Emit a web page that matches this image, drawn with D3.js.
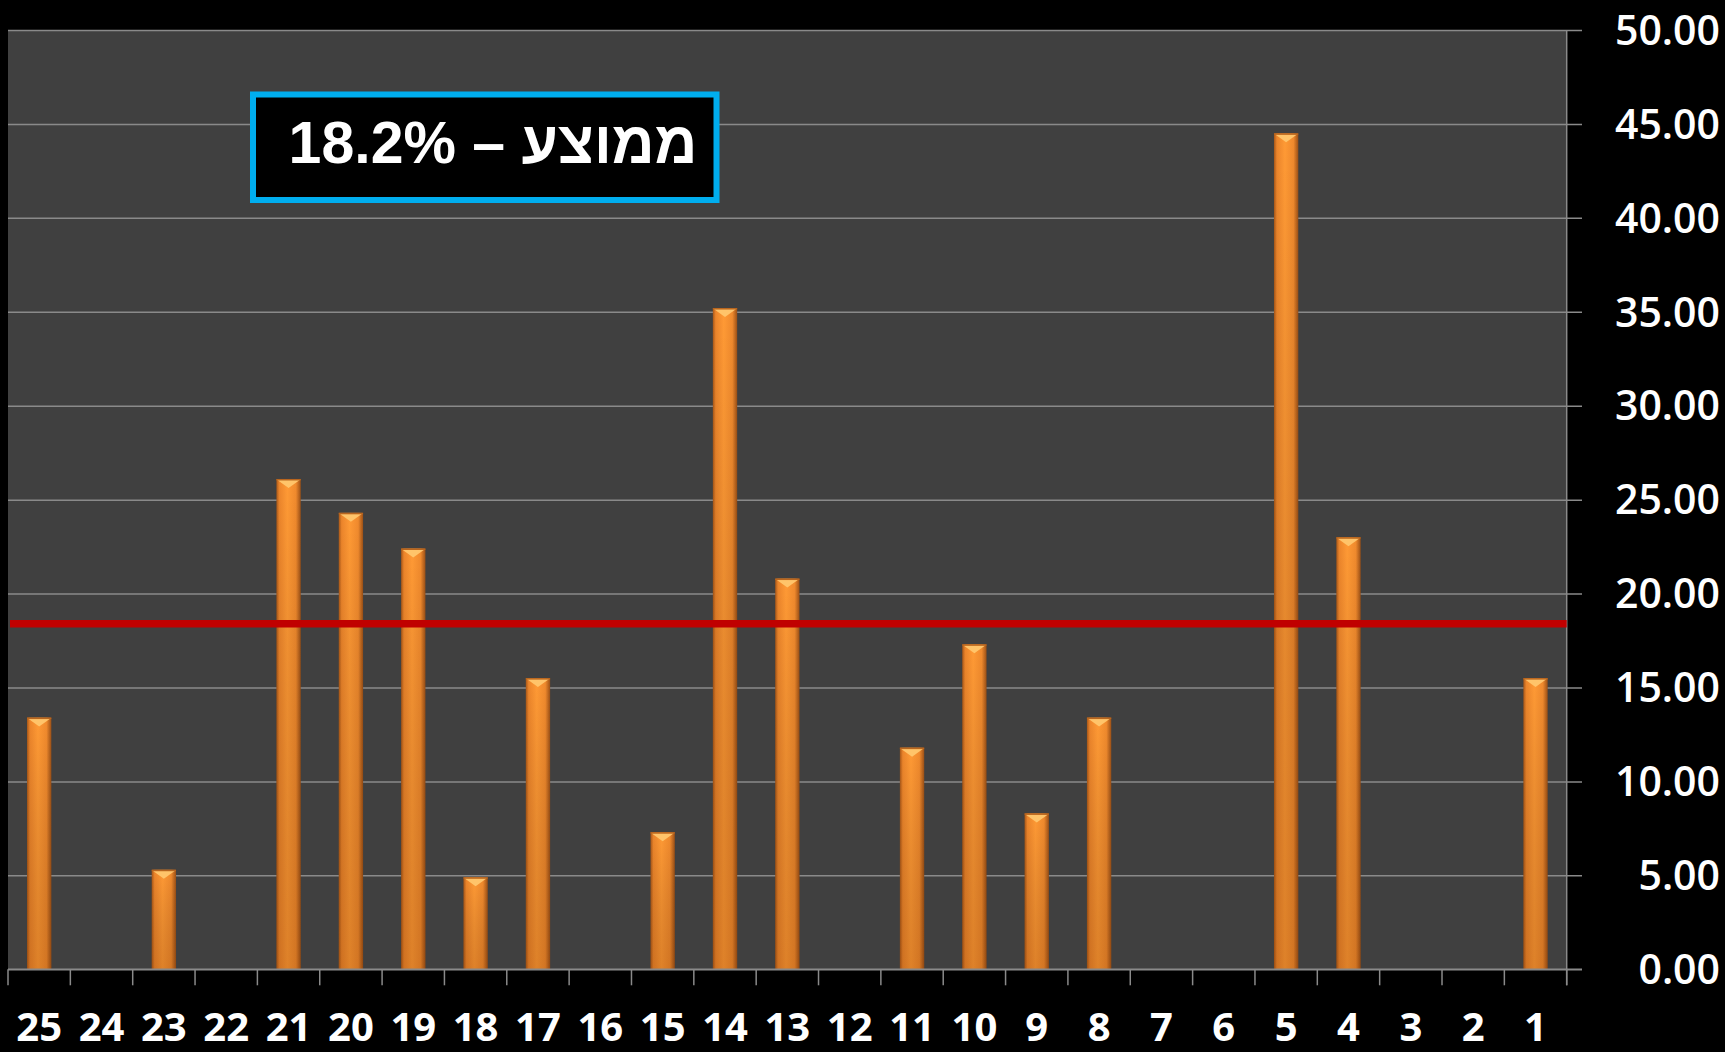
<!DOCTYPE html>
<html>
<head>
<meta charset="utf-8">
<script src="https://cdn.jsdelivr.net/npm/d3@7"></script>
<style>
  body { margin: 0; background: #000; }
  svg { display: block; }
</style>
</head>
<body>
<div id="app"></div>
<script>
// data, left to right as in the picture
var categories = ["25","24","23","22","21","20","19","18","17","16","15","14","13","12","11","10","9","8","7","6","5","4","3","2","1"];
var values = [13.4,0,5.3,0,26.1,24.3,22.4,4.9,15.5,0,7.3,35.2,20.8,0,11.8,17.3,8.3,13.4,0,0,44.5,23.0,0,0,15.5];
var yTicks = [0,5,10,15,20,25,30,35,40,45,50];
var averageLine = 18.4;
var averageLabel = "ממוצע – 18.2%";

var width = 1725, height = 1052;
var plotLeft = 8, plotRight = 1566.7, plotTop = 30, plotBottom = 969.3;

var svg = d3.select("#app").append("svg")
    .attr("width", width)
    .attr("height", height);

svg.append("rect").attr("width", width).attr("height", height).attr("fill", "#000");

var x = d3.scaleBand().domain(categories).range([plotLeft, plotRight]).padding(0);
var y = d3.scaleLinear().domain([0, 50]).range([plotBottom, plotTop]);

var defs = svg.append("defs");
var grad = defs.append("linearGradient").attr("id", "barGrad")
    .attr("x1", "0%").attr("x2", "100%").attr("y1", "0%").attr("y2", "0%");
grad.append("stop").attr("offset", "0%").attr("stop-color", "#a85718");
grad.append("stop").attr("offset", "12%").attr("stop-color", "#ec852b");
grad.append("stop").attr("offset", "45%").attr("stop-color", "#ff9a35");
grad.append("stop").attr("offset", "80%").attr("stop-color", "#f08a2d");
grad.append("stop").attr("offset", "100%").attr("stop-color", "#9c5016");

var shade = defs.append("linearGradient").attr("id", "barShade")
    .attr("x1", "0%").attr("x2", "0%").attr("y1", "0%").attr("y2", "100%");
shade.append("stop").attr("offset", "0%").attr("stop-color", "#000").attr("stop-opacity", 0);
shade.append("stop").attr("offset", "100%").attr("stop-color", "#6a2c00").attr("stop-opacity", 0.22);

// plot background
svg.append("rect")
    .attr("x", plotLeft).attr("y", plotTop)
    .attr("width", plotRight - plotLeft).attr("height", plotBottom - plotTop)
    .attr("fill", "#404040");

// gridlines
var grid = svg.append("g")
    .attr("transform", "translate(1582,0)")
    .call(d3.axisLeft(y).tickValues(yTicks).tickSize(1582 - plotLeft).tickFormat(""));
grid.select(".domain").remove();
grid.selectAll("line").attr("stroke", "#8a8a8a").attr("stroke-width", 1.5);

// right axis line
svg.append("line")
    .attr("x1", plotRight).attr("x2", plotRight)
    .attr("y1", plotTop).attr("y2", plotBottom + 16)
    .attr("stroke", "#8a8a8a").attr("stroke-width", 1.5);

// y labels
svg.append("g").selectAll("text")
    .data(yTicks).enter().append("text")
    .attr("x", 1720)
    .attr("y", function(d) { return y(d); })
    .attr("dy", "0.36em")
    .attr("text-anchor", "end")
    .attr("fill", "#fff")
    .style("font-family", "'Open Sans', sans-serif")
    .style("font-weight", 600)
    .style("font-size", "41px")
    .text(function(d) { return d.toFixed(2); });

// bars
var bw = x.bandwidth() * 0.39;
var barG = svg.append("g");
values.forEach(function(v, i) {
    if (v <= 0) return;
    var cx = x(categories[i]) + x.bandwidth() / 2;
    var top = y(v);
    barG.append("rect")
        .attr("x", cx - bw / 2).attr("y", top)
        .attr("width", bw).attr("height", y(0) - top)
        .attr("fill", "url(#barGrad)");
    barG.append("rect")
        .attr("x", cx - bw / 2).attr("y", top)
        .attr("width", bw).attr("height", y(0) - top)
        .attr("fill", "url(#barShade)");
    // bevelled cap
    barG.append("path")
        .attr("d", "M" + (cx - bw / 2 + 1) + "," + (top + 1) +
                   "L" + (cx + bw / 2 - 1) + "," + (top + 1) +
                   "L" + cx + "," + (top + 9) + "Z")
        .attr("fill", "#ffc46a");
    barG.append("rect")
        .attr("x", cx - bw / 2).attr("y", top)
        .attr("width", bw).attr("height", 1.5)
        .attr("fill", "#b8651e");
});

// x axis line + ticks at band edges
svg.append("line")
    .attr("x1", plotLeft).attr("x2", 1582)
    .attr("y1", plotBottom).attr("y2", plotBottom)
    .attr("stroke", "#8a8a8a").attr("stroke-width", 1.5);
var edges = categories.map(function(c) { return x(c); }).concat([plotRight]);
svg.append("g").selectAll("line")
    .data(edges).enter().append("line")
    .attr("x1", function(d) { return d; }).attr("x2", function(d) { return d; })
    .attr("y1", plotBottom).attr("y2", plotBottom + 16)
    .attr("stroke", "#8a8a8a").attr("stroke-width", 1.5);

// x labels
var xAxis = svg.append("g")
    .attr("transform", "translate(0," + plotBottom + ")")
    .call(d3.axisBottom(x).tickSize(0).tickPadding(0));
xAxis.select(".domain").remove();
xAxis.selectAll("text")
    .attr("y", 57)
    .attr("dy", "0.36em")
    .attr("fill", "#fff")
    .style("font-family", "'Open Sans', sans-serif")
    .style("font-weight", 700)
    .style("font-size", "40px");

// average line
svg.append("line")
    .attr("x1", 10).attr("x2", plotRight)
    .attr("y1", y(averageLine)).attr("y2", y(averageLine))
    .attr("stroke", "#c00000").attr("stroke-width", 7.5);

// average label box
svg.append("rect")
    .attr("x", 253).attr("y", 94.5)
    .attr("width", 463.5).attr("height", 105.5)
    .attr("fill", "#000")
    .attr("stroke", "#00aeef")
    .attr("stroke-width", 6);
svg.append("text")
    .attr("x", 493).attr("y", 163)
    .attr("text-anchor", "middle")
    .attr("direction", "rtl")
    .attr("fill", "#fff")
    .style("font-family", "'Liberation Sans', Arial, sans-serif")
    .style("font-weight", 700)
    .style("font-size", "59px")
    .text(averageLabel);
</script>
</body>
</html>
